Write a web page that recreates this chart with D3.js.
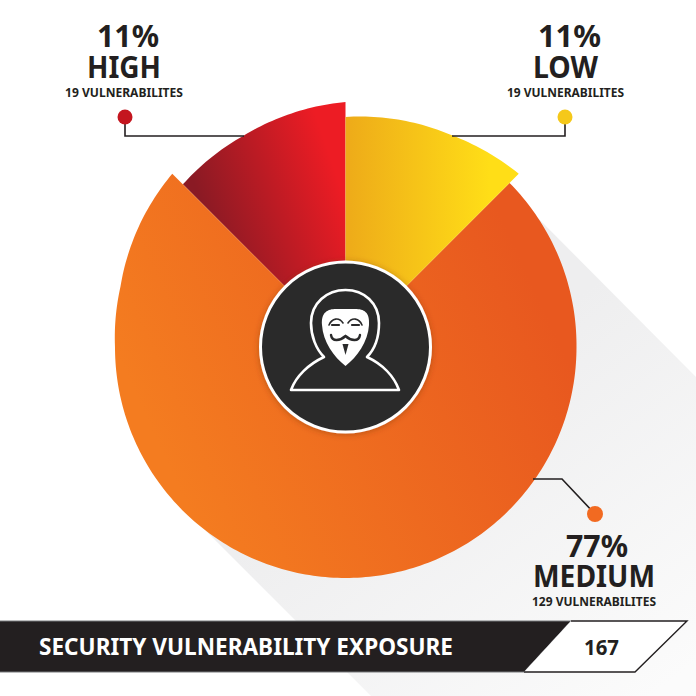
<!DOCTYPE html>
<html><head><meta charset="utf-8">
<script src="https://d3js.org/d3.v7.min.js"></script>
<style>html,body{margin:0;padding:0;background:#fff}svg{display:block}text{font-family:"Noto Sans","Open Sans",sans-serif;font-weight:700}</style>
</head><body><svg id="c" width="696" height="696" viewBox="0 0 696 696"></svg>
<script>
// Data
const categories = ["HIGH", "LOW", "MEDIUM"];
const percentLabels = ["11%", "11%", "77%"];
const countLabels = ["19 VULNERABILITES", "19 VULNERABILITES", "129 VULNERABILITES"];
const drawnSweepDegrees = [45, 45, 270];
const titleText = "SECURITY VULNERABILITY EXPOSURE";
const totalText = "167";

const svg = d3.select("#c");
const cx = 345.5, cy = 347;
const rad = d => d * Math.PI / 180;

// Outer edge of each wedge drifts slightly off centre: angle fraction -> radius
const edgeStops = [
  {t:[0, .42, 1], r:[230, 234.5, 245]},
  {t:[0, .6, 1], r:[230, 237, 245]},
  {t:[0, .167, .5, .833, .889, .952, 1], r:[232, 231, 231, 230.5, 233, 240, 245]}
];
const gradients = [
  {id:"gHigh", x1:205, y1:215, x2:335, y2:170, stops:["#8a1a24", "#ed1c24"]},
  {id:"gLow", x1:350, y1:190, x2:490, y2:190, stops:["#eeac19", "#ffde17"]},
  {id:"gMed", x1:170, y1:470, x2:540, y2:300, stops:["#f47c20", "#e8581f"]}
];
const defs = svg.append("defs");
gradients.forEach(g => {
  const lg = defs.append("linearGradient").attr("id", g.id).attr("gradientUnits", "userSpaceOnUse")
    .attr("gradientTransform", `translate(${-cx},${-cy})`)
    .attr("x1", g.x1).attr("y1", g.y1).attr("x2", g.x2).attr("y2", g.y2);
  g.stops.forEach((c, i) => lg.append("stop").attr("offset", i).attr("stop-color", c));
});
const sg = defs.append("linearGradient").attr("id", "gShadow").attr("gradientUnits", "userSpaceOnUse")
  .attr("x1", 440).attr("y1", 400).attr("x2", 660).attr("y2", 690);
sg.append("stop").attr("offset", 0).attr("stop-color", "#eeeeef");
sg.append("stop").attr("offset", 1).attr("stop-color", "#fbfbfb");
const blur = defs.append("filter").attr("id", "soft").attr("x", "-20%").attr("y", "-20%").attr("width", "140%").attr("height", "140%");
blur.append("feDropShadow").attr("dx", 0).attr("dy", 1).attr("stdDeviation", 3).attr("flood-color", "#7a3000").attr("flood-opacity", .45);

// Long cast shadow
svg.append("path").attr("fill", "url(#gShadow)")
  .attr("d", d3.line()([[520, 200], [696, 377], [696, 696], [371, 696], [170, 495], [345, 347]]));

// Wedges
const pie = d3.pie().sort(null).value(d => d)
  .startAngle(rad(-45)).endAngle(rad(315));
const arcs = pie(drawnSweepDegrees);
const radial = d3.lineRadial().angle(d => d[0]).radius(d => d[1]).curve(d3.curveLinear);
function wedge(a, i) {
  const f = d3.scaleLinear().domain(edgeStops[i].t).range(edgeStops[i].r);
  const n = Math.round((a.endAngle - a.startAngle) / rad(1));
  const pts = d3.range(n + 1).map(k => [a.startAngle + (a.endAngle - a.startAngle) * k / n, f(k / n)]);
  return radial([[a.startAngle, 0], ...pts]) + "Z";
}
const paintOrder = [0, 2, 1];
svg.append("g").attr("transform", `translate(${cx},${cy})`)
  .selectAll("path").data(paintOrder).join("path")
  .attr("d", i => wedge(arcs[i], i))
  .attr("fill", i => `url(#${gradients[i].id})`);

// Leader lines and dots
const ink = "#231f20";
const leaders = [
  {pts:[[125,117],[125,136],[244,136]], dot:[125,117], r:7.5, c:"#c4161f"},
  {pts:[[565,117],[565,136],[452,136]], dot:[565,117], r:7.5, c:"#f5c81a"},
  {pts:[[533,479],[562,479],[595,514]], dot:[595,514], r:8, c:"#f26a21"}
];
leaders.forEach(l => {
  svg.append("path").attr("d", d3.line()(l.pts)).attr("fill", "none").attr("stroke", ink).attr("stroke-width", 1.6);
  svg.append("circle").attr("cx", l.dot[0]).attr("cy", l.dot[1]).attr("r", l.r).attr("fill", l.c);
});

// Labels
const labelBox = [
  {pct:[97,159,47], name:[87,161,78], cnt:[65,183,97]},
  {pct:[538,601,47], name:[533,598,78], cnt:[507,624,97]},
  {pct:[566,628,557], name:[533,655,587], cnt:[532,656,606]}
];
function fit(txt, b, size, fill) {
  svg.append("text").attr("x", b[0]).attr("y", b[2]).attr("font-size", size).attr("fill", fill || ink)
    .attr("textLength", b[1] - b[0]).attr("lengthAdjust", "spacingAndGlyphs").text(txt);
}
categories.forEach((c, i) => {
  fit(percentLabels[i], labelBox[i].pct, 31);
  fit(c, labelBox[i].name, 30);
  fit(countLabels[i], labelBox[i].cnt, 12);
});

// Hub
svg.append("circle").attr("cx", cx).attr("cy", cy).attr("r", 85).attr("fill", "#2a2a2b")
  .attr("stroke", "#fff").attr("stroke-width", 3).attr("filter", "url(#soft)");
const icon = svg.append("g");
icon.append("path").attr("fill", "none").attr("stroke", "#fff").attr("stroke-width", 2.6).attr("stroke-linejoin", "round")
  .attr("d", "M291,390 C296,376 309,364 324,357 C316,349 311,336 311,323 C311,303 327,290 345.5,290 C364,290 379,303 379,323 C379,336 375,349 367,357 C382,364 394,376 399,390 Z");
icon.append("path").attr("fill", "#fff")
  .attr("d", "M322,325 C321,312 328,309 336,309 L355,309 C364,309 370,312 369,325 C368,342 357,357 345.5,366 C334,357 323,342 322,325 Z");
const face = icon.append("g").attr("fill", "none").attr("stroke", "#2a2a2b").attr("stroke-linecap", "round");
face.append("path").attr("stroke-width", 1.6).attr("d", "M329,325 C332,318 339,317 343,323 M348,323 C352,317 359,318 362,325");
face.append("path").attr("stroke-width", 2.2).attr("d", "M332,325 L339,325 M352,325 L359,325");
face.append("path").attr("stroke-width", 2.4).attr("d", "M331,335 C332,342 340,341 345.5,336 C351,341 359,342 360,335");
icon.append("path").attr("fill", "#2a2a2b").attr("d", "M342.5,344 L348.5,344 L345.5,355 Z");

// Title band
svg.append("path").attr("d", d3.line()([[-2,621],[571,621],[524,672],[-2,672]]) + "Z").attr("fill", ink).attr("stroke", "#77787b").attr("stroke-width", 1);
svg.append("path").attr("d", d3.line()([[571,621],[687,621],[635,672],[524,672]]) + "Z").attr("fill", "#fff");
svg.append("path").attr("d", d3.line()([[571,621],[687,621],[635,672],[524,672]])).attr("fill", "none").attr("stroke", ink).attr("stroke-width", 1.4);
fit(titleText, [39,453,655], 24, "#fff");
fit(totalText, [584,619,655], 21);
</script></body></html>
